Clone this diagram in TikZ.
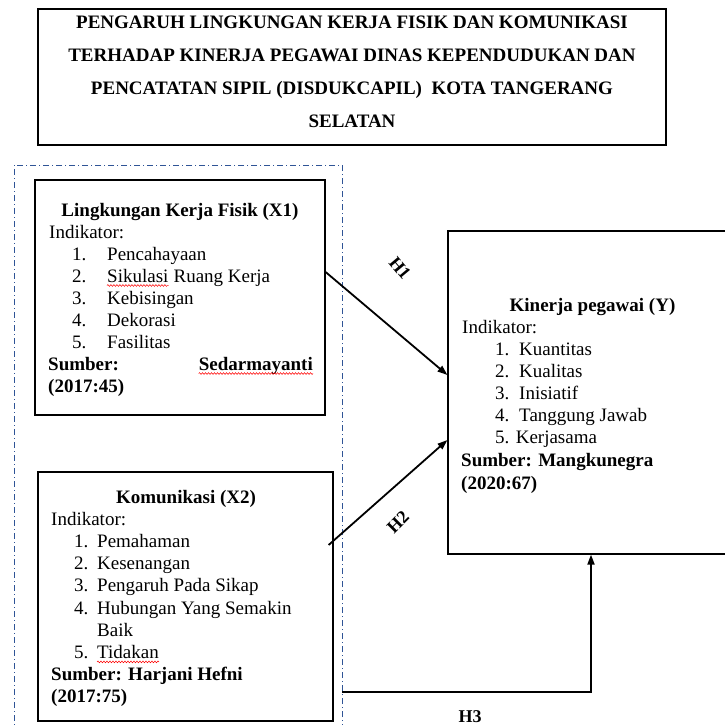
\documentclass[tikz,border=0pt]{standalone}
\usepackage{fontspec}
\setmainfont{Liberation Serif}
\usetikzlibrary{arrows.meta,decorations.pathmorphing}
\definecolor{ddblue}{RGB}{47,84,150}
\begin{document}
\begin{tikzpicture}[x=1pt,y=-1pt,
  txt/.style={anchor=base west,inner sep=0pt,font=\fontsize{19}{22}\selectfont},
  btxt/.style={txt,font=\fontsize{19}{22}\selectfont\bfseries},
  ctr/.style={anchor=base,inner sep=0pt,font=\fontsize{19}{22}\selectfont\bfseries},
  lbl/.style={inner sep=0pt,font=\fontsize{18}{20}\selectfont\bfseries},
  box/.style={draw=black,line width=1.2pt,inner sep=0pt},
  grpbox/.style={draw=ddblue,line width=0.9pt,dash pattern=on 6pt off 3pt on 1pt off 3pt,inner sep=0pt},
  arr/.style={-{Triangle[length=10pt,width=7pt]},line width=1.8pt},
  squig/.style={red,line width=0.5pt,decorate,decoration={snake,amplitude=0.9pt,segment length=3pt}}
]
\useasboundingbox (0,0) rectangle (725,724);
\clip (0,0) rectangle (725,724);

% title
\node[box,minimum width=628pt,minimum height=136pt] (title) at (352,77) {};
\node[ctr] (t1) at (352,28) {PENGARUH LINGKUNGAN KERJA FISIK DAN KOMUNIKASI};
\node[ctr] (t2) at (352,61) {TERHADAP KINERJA PEGAWAI DINAS KEPENDUDUKAN DAN};
\node[ctr] (t3) at (352,94) {PENCATATAN SIPIL (DISDUKCAPIL) \ KOTA TANGERANG};
\node[ctr] (t4) at (352,127) {SELATAN};

% group
\node[grpbox,minimum width=328pt,minimum height=575pt] (grp) at (178,452.5) {};

% X1
\node[box,minimum width=290pt,minimum height=235pt] (x1) at (180,297.5) {};
\node[ctr] (x1t) at (180,216) {Lingkungan Kerja Fisik (X1)};
\node[txt] (x1i) at (49,238) {Indikator:};
\node[txt] (x1n1) at (72,260) {1.};
\node[txt] (x1a) at (107,260) {Pencahayaan};
\node[txt] (x1n2) at (72,282) {2.};
\node[txt] (x1b) at (107,282) {Sikulasi};
\node[txt] (x1b2) at ([xshift=4.75pt]x1b.base east) {Ruang Kerja};
\node[txt] (x1n3) at (72,304) {3.};
\node[txt] (x1c) at (107,304) {Kebisingan};
\node[txt] (x1n4) at (72,326) {4.};
\node[txt] (x1d) at (107,326) {Dekorasi};
\node[txt] (x1n5) at (72,348) {5.};
\node[txt] (x1e) at (107,348) {Fasilitas};
\node[btxt] (x1s) at (48,370) {Sumber:};
\node[btxt,anchor=base east] (x1s2) at (313,370) {Sedarmayanti};
\node[btxt] (x1y) at (48,392) {(2017:45)};
\draw[squig] ([yshift=-3.5pt]x1b.base west) -- ([yshift=-3.5pt]x1b.base east);
\draw[squig] ([yshift=-3.5pt]x1s2.base west) -- ([yshift=-3.5pt]x1s2.base east);

% X2
\node[box,minimum width=295pt,minimum height=249pt] (x2) at (185.5,596.5) {};
\node[ctr] (x2t) at (186,503) {Komunikasi (X2)};
\node[txt] (x2i) at (51,525.2) {Indikator:};
\node[txt] (x2n1) at (74,547.4) {1.};
\node[txt] (x2a) at (97,547.4) {Pemahaman};
\node[txt] (x2n2) at (74,569.6) {2.};
\node[txt] (x2b) at (97,569.6) {Kesenangan};
\node[txt] (x2n3) at (74,591.8) {3.};
\node[txt] (x2c) at (97,591.8) {Pengaruh Pada Sikap};
\node[txt] (x2n4) at (74,614) {4.};
\node[txt] (x2d) at (97,614) {Hubungan Yang Semakin};
\node[txt] (x2d2) at (97,636.2) {Baik};
\node[txt] (x2n5) at (74,658.4) {5.};
\node[txt] (x2e) at (97,658.4) {Tidakan};
\node[btxt] (x2s) at (51,680.6) {Sumber: Harjani Hefni};
\node[btxt] (x2y) at (51,702.8) {(2017:75)};
\draw[squig] ([yshift=-3.5pt]x2e.base west) -- ([yshift=-3.5pt]x2e.base east);

% Y
\node[box,minimum width=289pt,minimum height=323pt] (y) at (592.5,392.5) {};
\node[ctr] (yt) at (592.5,311) {Kinerja pegawai (Y)};
\node[txt] (yi) at (462,333) {Indikator:};
\node[txt] (yn1) at (495,355) {1.};
\node[txt] (ya) at (519,355) {Kuantitas};
\node[txt] (yn2) at (495,377) {2.};
\node[txt] (yb) at (519,377) {Kualitas};
\node[txt] (yn3) at (495,399) {3.};
\node[txt] (yc) at (519,399) {Inisiatif};
\node[txt] (yn4) at (495,421) {4.};
\node[txt] (yd) at (519,421) {Tanggung Jawab};
\node[txt] (ye) at (495,443) {5. Kerjasama};
\node[btxt] (ys) at (461,466) {Sumber: Mangkunegra};
\node[btxt] (yy) at (461,489) {(2020:67)};

% connectors
\coordinate (h3turn) at (591,692);
\draw[arr] ([yshift=25.5pt]x1.east) -- ([yshift=17.5pt]y.west);
\draw[arr] ([xshift=-5pt,yshift=51.5pt]x2.east) -- ([yshift=-47.5pt]y.west);
\draw[arr] (grp.east |- h3turn) -- (h3turn) -- (y.south -| h3turn);

\node[lbl,rotate=-50] (h1) at (400,268) {H1};
\node[lbl,rotate=45] (h2) at (398,522) {H2};
\node[lbl] (h3) at (470,717) {H3};
\end{tikzpicture}
\end{document}
